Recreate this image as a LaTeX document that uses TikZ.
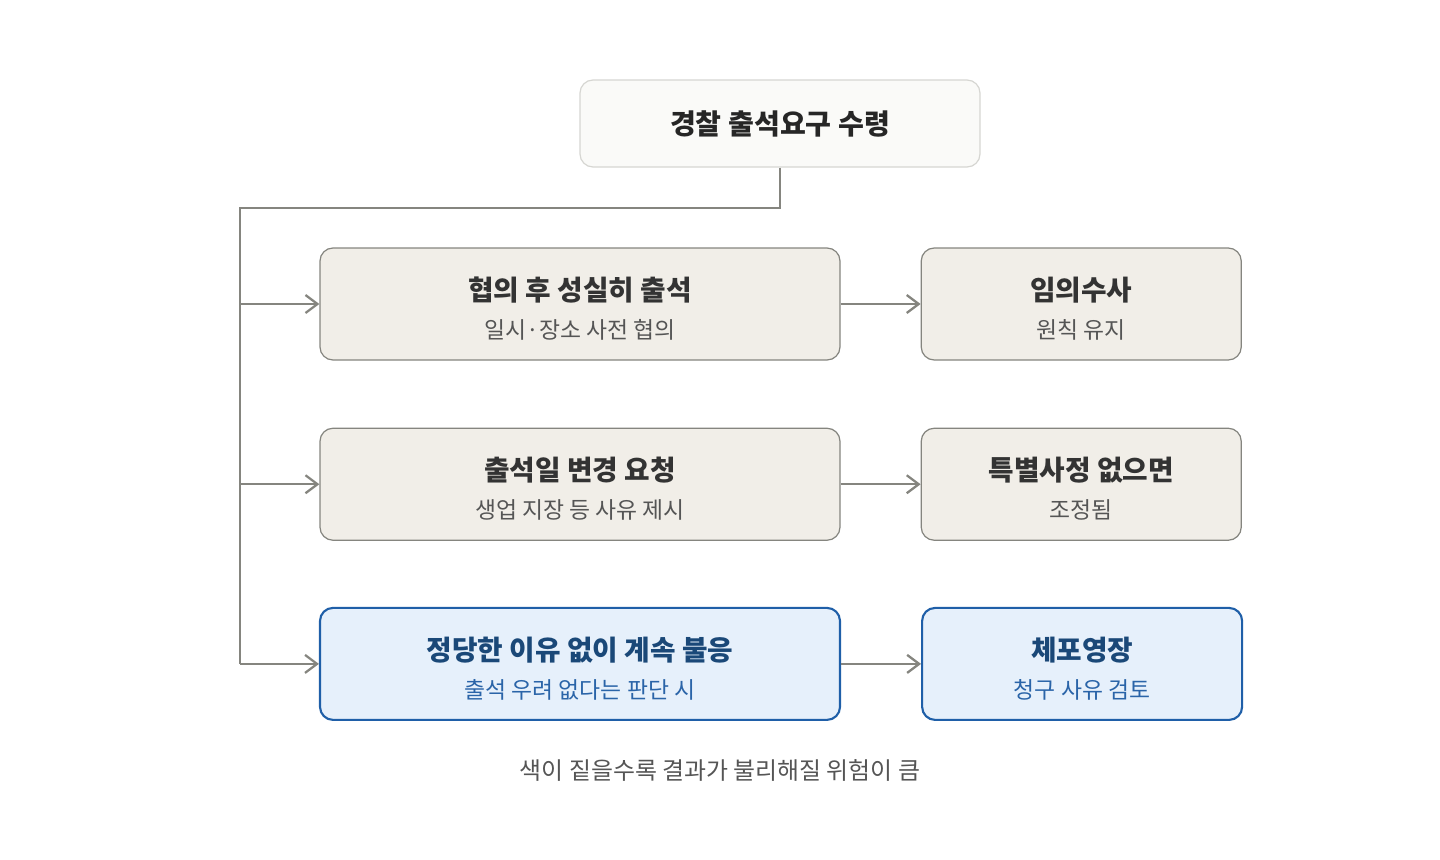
\documentclass[tikz,border=0pt]{standalone}
\usepackage{fontspec}
\setmainfont{Noto Sans CJK KR}
\usepackage{xcolor}
\usepackage{tikz}
\usetikzlibrary{arrows.meta,positioning}

\definecolor{linegray}{HTML}{85857F}
\definecolor{boxfill}{HTML}{F1EEE8}
\definecolor{topfill}{HTML}{FAFAF8}
\definecolor{topline}{HTML}{D6D6D2}
\definecolor{bluefill}{HTML}{E6F0FB}
\definecolor{blueline}{HTML}{1F5FA8}
\definecolor{bluedark}{HTML}{1A4878}
\definecolor{bluetext}{HTML}{2A64A8}
\definecolor{titletext}{HTML}{333333}
\definecolor{subtext}{HTML}{555555}

\newcommand{\boxtext}[2]{{\fontsize{7.9pt}{9pt}\selectfont\bfseries\rule{0pt}{9.3pt}#1}\\[-0.4mm]{\fontsize{6.5pt}{8pt}\selectfont\color{subtext}#2}}
\newcommand{\bluetext}[2]{{\fontsize{7.9pt}{9pt}\selectfont\bfseries\color{bluedark}\rule{0pt}{9.3pt}#1}\\[-0.4mm]{\fontsize{6.5pt}{8pt}\selectfont\color{bluetext}#2}}

\begin{document}
\begin{tikzpicture}[-{Straight Barb[length=1.2mm,width=1.8mm]}, line width=0.65pt, node distance=0.8cm and 0.8cm,
  step box/.style={draw=linegray, fill=boxfill, rounded corners=1.3mm, line width=0.35pt, align=center, text=titletext, minimum height=1.12cm},
  risk box/.style={draw=blueline, fill=bluefill, rounded corners=1.3mm, line width=0.6pt, align=center, minimum height=1.12cm},
  wide/.style={minimum width=5.2cm},
  narrow/.style={minimum width=3.2cm}]
\useasboundingbox (0,0) rectangle (14.4,-8.6);

\node[draw=topline, fill=topfill, rounded corners=1.3mm, line width=0.35pt, minimum width=4cm, minimum height=0.87cm, font=\fontsize{8pt}{9pt}\selectfont\bfseries, text=black!85] (req) at (7.8,-1.235) {경찰 출석요구 수령};

\node[step box, wide] (a1) at (5.8,-3.04) {\boxtext{협의 후 성실히 출석}{일시·장소 사전 협의}};
\node[step box, narrow] (a2) [right=of a1] {\boxtext{임의수사}{원칙 유지}};
\node[step box, wide] (b1) [below=0.67cm of a1] {\boxtext{출석일 변경 요청}{생업 지장 등 사유 제시}};
\node[step box, narrow] (b2) [right=of b1] {\boxtext{특별사정 없으면}{조정됨}};
\node[risk box, wide] (c1) [below=0.66cm of b1] {\bluetext{정당한 이유 없이 계속 불응}{출석 우려 없다는 판단 시}};
\node[risk box, narrow] (c2) [right=of c1] {\bluetext{체포영장}{청구 사유 검토}};

\node[font=\fontsize{6.8pt}{8pt}\selectfont, text=subtext] (note) at (7.2,-7.7) {색이 짙을수록 결과가 불리해질 위험이 큼};

\coordinate (turn) at (2.4,-2.08);
\coordinate (end) at (2.4,-6.64);
\draw[draw=linegray, -] (req.south) |- (turn) -- (end);
\foreach \n in {a1,b1,c1}
  \draw[draw=linegray] (turn |- \n.west) -- (\n.west);
\draw[draw=linegray] (a1) -- (a2);
\draw[draw=linegray] (b1) -- (b2);
\draw[draw=linegray] (c1) -- (c2);
\end{tikzpicture}
\end{document}
